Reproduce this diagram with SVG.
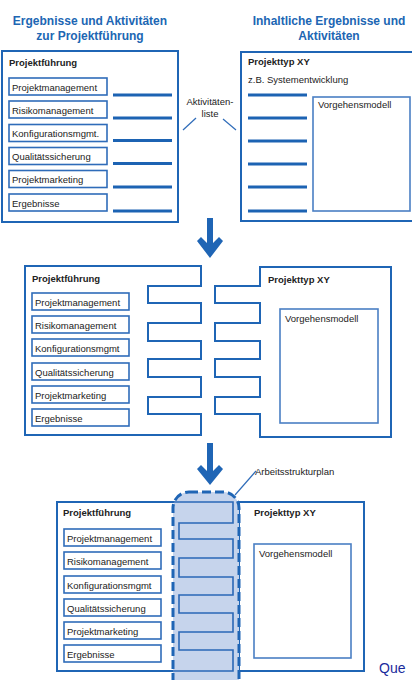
<svg xmlns="http://www.w3.org/2000/svg" width="412" height="680" viewBox="0 0 412 680">
<style>
text{font-family:"Liberation Sans",Arial,sans-serif;fill:#222;font-size:9.5px}
.title{font-weight:bold;font-size:12px;fill:#2066b3;text-anchor:middle}
.b{font-weight:bold}
.box{fill:#fff;stroke:#1f65b5;stroke-width:2}
.item{fill:#fff;stroke:#2f6cb9;stroke-width:1.6}
.vm{fill:#fff;stroke:#4a7fc4;stroke-width:1.6}
.bar{stroke:#1c63b3;stroke-width:3}
.thin{stroke:#2f6cb9;stroke-width:1.2;fill:none}
.comb{fill:#fff;stroke:#1f65b5;stroke-width:2}
.arrow{fill:#1f65b5}
</style>
<rect width="412" height="680" fill="#fff"/>
<text class="title" x="90" y="25">Ergebnisse und Aktivitäten</text>
<text class="title" x="90" y="40">zur Projektführung</text>
<text class="title" x="329" y="25">Inhaltliche Ergebnisse und</text>
<text class="title" x="329" y="40">Aktivitäten</text>

<g id="p1-fuehrung">
<rect class="box" x="2" y="51" width="176" height="171"/>
<text class="b" x="9" y="66">Projektführung</text>
<rect class="item" x="9" y="78" width="98" height="17"/><text x="12" y="90.5">Projektmanagement</text>
<rect class="item" x="9" y="101" width="98" height="17"/><text x="12" y="113.5">Risikomanagement</text>
<rect class="item" x="9" y="124.5" width="98" height="17"/><text x="12" y="137">Konfigurationsmgmt.</text>
<rect class="item" x="9" y="147.5" width="98" height="17"/><text x="12" y="160">Qualitätssicherung</text>
<rect class="item" x="9" y="170.5" width="98" height="17"/><text x="12" y="183">Projektmarketing</text>
<rect class="item" x="9" y="194" width="98" height="17"/><text x="12" y="206.5">Ergebnisse</text>
<g class="bar"><line x1="113" y1="95" x2="172" y2="95"/><line x1="113" y1="118" x2="172" y2="118"/><line x1="113" y1="140.5" x2="172" y2="140.5"/><line x1="113" y1="163.5" x2="172" y2="163.5"/><line x1="113" y1="187" x2="172" y2="187"/><line x1="113" y1="211" x2="172" y2="211"/></g>
</g>
<g id="p1-typ">
<rect class="box" x="241" y="52" width="175" height="169"/>
<text class="b" x="248" y="65">Projekttyp XY</text>
<text x="248" y="83">z.B. Systementwicklung</text>
<g class="bar"><line x1="248" y1="95" x2="307" y2="95"/><line x1="248" y1="118" x2="307" y2="118"/><line x1="248" y1="141" x2="307" y2="141"/><line x1="248" y1="164" x2="307" y2="164"/><line x1="248" y1="187" x2="307" y2="187"/><line x1="248" y1="211" x2="307" y2="211"/></g>
<rect class="vm" x="313" y="97" width="97" height="114"/>
<text x="318" y="108">Vorgehensmodell</text>
</g>
<g id="p1-label">
<text x="210" y="105" text-anchor="middle">Aktivitäten-</text>
<text x="210" y="117" text-anchor="middle">liste</text>
</g>

<g id="p2-fuehrung">
<path class="comb" d="M25,266 H201 V286 H148 V303 H201 V323 H148 V341 H201 V359 H148 V377 H201 V397 H148 V414 H201 V435 H25 Z"/>
<text class="b" x="32" y="282">Projektführung</text>
<rect class="item" x="32" y="293" width="97" height="17"/><text x="35" y="305.5">Projektmanagement</text>
<rect class="item" x="32" y="316" width="97" height="17"/><text x="35" y="328.5">Risikomanagement</text>
<rect class="item" x="32" y="339" width="97" height="17"/><text x="35" y="351.5">Konfigurationsmgmt</text>
<rect class="item" x="32" y="363" width="97" height="17"/><text x="35" y="375.5">Qualitätssicherung</text>
<rect class="item" x="32" y="386" width="97" height="17"/><text x="35" y="398.5">Projektmarketing</text>
<rect class="item" x="32" y="409" width="97" height="17"/><text x="35" y="421.5">Ergebnisse</text>
</g>
<g id="p2-typ">
<path class="comb" d="M391,267 H260 V286 H215 V303 H260 V323 H215 V341 H260 V359 H215 V377 H260 V397 H215 V414 H260 V437 H391 Z"/>
<text class="b" x="268" y="283">Projekttyp XY</text>
<rect class="vm" x="280" y="309" width="98" height="114"/>
<text x="285" y="322">Vorgehensmodell</text>
</g>

<g id="p3-fuehrung">
<path class="comb" d="M57,502 H233 V671 H57 Z"/>
<text class="b" x="63" y="516">Projektführung</text>
<rect class="item" x="64" y="529" width="97" height="17"/><text x="67" y="541.5">Projektmanagement</text>
<rect class="item" x="64" y="552" width="97" height="17"/><text x="67" y="564.5">Risikomanagement</text>
<rect class="item" x="64" y="576" width="97" height="17"/><text x="67" y="588.5">Konfigurationsmgmt</text>
<rect class="item" x="64" y="599" width="97" height="17"/><text x="67" y="611.5">Qualitätssicherung</text>
<rect class="item" x="64" y="622" width="97" height="17"/><text x="67" y="634.5">Projektmarketing</text>
<rect class="item" x="64" y="645" width="97" height="17"/><text x="67" y="657.5">Ergebnisse</text>
</g>
<g id="p3-typ">
<rect class="box" x="239" y="502" width="125" height="169"/>
<text class="b" x="254" y="516">Projekttyp XY</text>
<rect class="vm" x="254" y="544" width="97" height="114"/>
<text x="259" y="557">Vorgehensmodell</text>
</g>
<g id="p3-asp">
<rect x="173" y="492" width="66" height="210" rx="16" fill="#c6d4ec"/>
<path d="M173,502 H233 V523 H179 V539 H233 V558 H179 V577 H233 V595 H179 V613 H233 V632 H179 V650 H233 V671 H173" fill="none" stroke="#2a67b6" stroke-width="1.6"/>
<rect x="173" y="492" width="66" height="210" rx="16" fill="none" stroke="#1f65b5" stroke-width="3" stroke-dasharray="9 4"/>
<text x="255" y="475">Arbeitsstrukturplan</text>
</g>

<g id="connectors">
<line class="thin" x1="183" y1="130" x2="196" y2="118"/>
<line class="thin" x1="223" y1="119" x2="236" y2="130"/>
<line class="thin" x1="256" y1="471" x2="235" y2="495"/>
<path class="arrow" d="M207,218 H213 V243 L219,237 L223,241 L210,258 L197,241 L201,237 L207,243 Z"/>
<path class="arrow" d="M207,443 H213 V471 L219,465 L223,469 L210,485 L197,469 L201,465 L207,471 Z"/>
</g>
<text x="379" y="673" style="font-size:14px;fill:#1a2a9c">Que</text>
</svg>
